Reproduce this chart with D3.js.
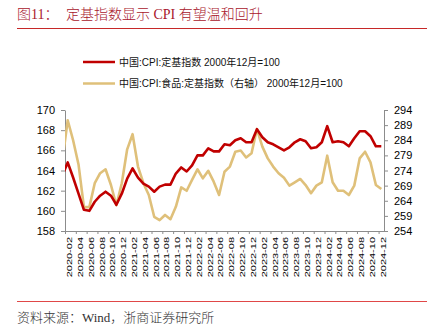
<!DOCTYPE html>
<html>
<head>
<meta charset="utf-8">
<script src="https://cdn.jsdelivr.net/npm/d3@7"></script>
<style>
  body { margin: 0; background: #fff; }
  svg { display: block; }
</style>
</head>
<body>
<div id="chart"></div>
<script>
// Monthly series, 2020-01 .. 2024-12
var months = d3.timeMonths(new Date(2020, 0, 1), new Date(2025, 0, 1)).map(d3.timeFormat("%Y-%m"));

// 中国:CPI:定基指数 (left axis)
var cpiIdx = [
    163.5, 164.8, 163.3, 161.7, 160.1, 160.0, 160.9, 161.5, 161.9, 161.5, 160.6, 161.7,
    163.2, 164.2, 163.3, 162.7, 162.4, 161.9, 162.4, 162.6, 162.6, 163.7, 164.3, 163.9,
    164.5, 165.5, 165.5, 166.2, 165.9, 165.9, 166.6, 166.5, 167.0, 167.2, 166.8, 166.8,
    168.1, 167.3, 166.8, 166.6, 166.3, 166.0, 166.3, 166.8, 167.1, 166.9, 166.2, 166.3,
    166.8, 168.4, 166.8, 166.9, 166.8, 166.4, 167.2, 167.9, 167.9, 167.4, 166.4, 166.4
];

// 中国:CPI:食品:定基指数 (right axis)
var foodIdx = [
    277.0, 290.6, 284.0, 276.0, 261.9, 261.9, 269.8, 273.1, 274.4, 269.2, 262.5, 269.8,
    281.0, 286.0, 275.3, 269.8, 265.9, 258.7, 257.6, 259.3, 257.9, 262.0, 268.4, 267.3,
    270.9, 274.4, 271.4, 273.9, 270.3, 265.9, 273.6, 275.3, 280.2, 280.6, 278.3, 279.7,
    287.7, 281.9, 278.0, 275.3, 273.1, 271.6, 269.0, 270.1, 271.2, 269.2, 266.5, 269.0,
    270.1, 278.9, 270.1, 267.3, 267.3, 265.9, 269.0, 278.0, 280.2, 276.7, 269.2, 267.9
];

var leftTicks = [158, 160, 162, 164, 166, 168, 170];
var rightTicks = [254, 259, 264, 269, 274, 279, 284, 289, 294];

var seriesNames = ["中国:CPI:定基指数 2000年12月=100", "中国:CPI:食品:定基指数（右轴） 2000年12月=100"];
var colors = ["#c00000", "#dfc07a"];

// Set up SVG
var svgWdt = 438;
var svgHgt = 333;
var plot = { left: 65, right: 384, top: 110, bottom: 231 };

var svg = d3.select("#chart").append("svg")
    .attr("width", svgWdt)
    .attr("height", svgHgt);

var sansFont = "'Liberation Sans', Arial, 'Noto Sans CJK SC', sans-serif";
var serifFont = "'Liberation Serif', 'Noto Sans CJK SC', serif";

// Title and rules
svg.append("text")
    .attr("x", 17).attr("y", 19)
    .attr("font-family", serifFont).attr("font-size", 14)
    .attr("font-weight", 300)
    .attr("fill", "#a8152b")
    .text("图11：");
svg.append("text")
    .attr("x", 66).attr("y", 19)
    .attr("font-family", serifFont).attr("font-size", 14)
    .attr("font-weight", 300)
    .attr("fill", "#a8152b")
    .text("定基指数显示 CPI 有望温和回升");
svg.append("line")
    .attr("x1", 17).attr("x2", 427).attr("y1", 28.5).attr("y2", 28.5)
    .attr("stroke", "#c62828").attr("stroke-width", 1);

svg.append("line")
    .attr("x1", 17).attr("x2", 427).attr("y1", 301.5).attr("y2", 301.5)
    .attr("stroke", "#e04848").attr("stroke-width", 1);
svg.append("text")
    .attr("x", 17).attr("y", 322)
    .attr("font-family", serifFont).attr("font-size", 13)
    .attr("font-weight", 300)
    .attr("fill", "#333")
    .text("资料来源：Wind，浙商证券研究所");

// Legend
var legend = svg.append("g").attr("transform", "translate(83, 62)");
seriesNames.forEach(function(name, i) {
    var row = legend.append("g").attr("transform", `translate(0, ${i * 21.5})`);
    row.append("line")
        .attr("x1", 0).attr("x2", 32)
        .attr("stroke", colors[i]).attr("stroke-width", 2.5);
    row.append("text")
        .attr("x", 36).attr("dy", "0.35em")
        .attr("font-family", sansFont).attr("font-size", 10)
        .attr("fill", "#111")
        .text(name);
});

// Scales
var xScale = d3.scaleLinear().domain([0.5, 59.5]).range([plot.left, plot.right]);
var yLeft = d3.scaleLinear().domain([158, 170]).range([plot.bottom, plot.top]);
var yRight = d3.scaleLinear().domain([254, 294]).range([plot.bottom, plot.top]);

// Axes
function styleAxis(g) {
    g.selectAll("path, line").attr("stroke", "#8c8c8c");
    g.selectAll("text").attr("font-family", sansFont).attr("fill", "#000");
}

svg.append("g")
    .attr("transform", `translate(${plot.left}, 0)`)
    .call(d3.axisLeft(yLeft).tickValues(leftTicks).tickSize(4).tickSizeOuter(0).tickPadding(6))
    .attr("font-size", 11)
    .call(styleAxis);

svg.append("g")
    .attr("transform", `translate(${plot.right}, 0)`)
    .call(d3.axisRight(yRight).tickValues(rightTicks).tickSize(4).tickSizeOuter(0).tickPadding(6))
    .attr("font-size", 11)
    .call(styleAxis);

// bottom tick marks sit between label pairs
svg.append("g")
    .attr("transform", `translate(0, ${plot.bottom})`)
    .call(d3.axisBottom(xScale).tickValues(d3.range(0.5, 59, 2)).tickSize(3).tickSizeOuter(0).tickFormat(""))
    .call(styleAxis);

var labelIdx = d3.range(1, 60, 2);
var xLabels = svg.append("g")
    .attr("transform", `translate(0, ${plot.bottom})`)
    .call(d3.axisBottom(xScale).tickValues(labelIdx).tickSize(0).tickFormat(i => months[i]))
    .attr("font-size", 11)
    .call(styleAxis);
xLabels.select(".domain").remove();
xLabels.selectAll("text")
    .attr("x", -6).attr("y", 0).attr("dy", "0.55em")
    .attr("text-anchor", "end")
    .attr("transform", "rotate(-90) scale(1, 0.64)");

// Lines
svg.append("defs").append("clipPath").attr("id", "plotClip")
    .append("rect")
    .attr("x", plot.left).attr("y", 0)
    .attr("width", plot.right - plot.left).attr("height", svgHgt);

var lineGrp = svg.append("g").attr("clip-path", "url(#plotClip)");

var foodLine = d3.line().x((d, i) => xScale(i)).y(d => yRight(d));
var cpiLine = d3.line().x((d, i) => xScale(i)).y(d => yLeft(d));

lineGrp.append("path")
    .datum(foodIdx)
    .attr("d", foodLine)
    .attr("fill", "none")
    .attr("stroke", colors[1])
    .attr("stroke-width", 2.6)
    .attr("stroke-linejoin", "round");

lineGrp.append("path")
    .datum(cpiIdx)
    .attr("d", cpiLine)
    .attr("fill", "none")
    .attr("stroke", colors[0])
    .attr("stroke-width", 2.6)
    .attr("stroke-linejoin", "round");
</script>
</body>
</html>
